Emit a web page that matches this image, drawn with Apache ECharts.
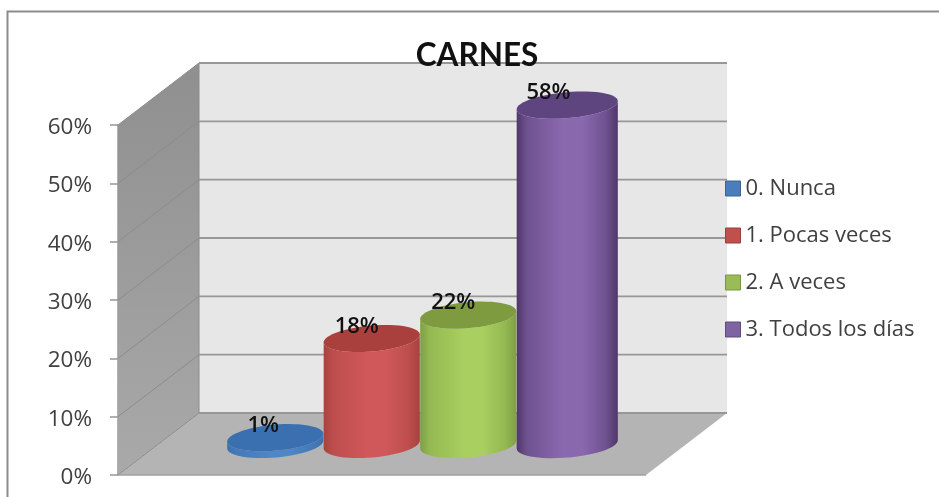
<!DOCTYPE html>
<html>
<head>
<meta charset="utf-8">
<style>html,body{margin:0;padding:0;background:#fff}#c{width:939px;height:497px}</style>
<script src="https://cdn.jsdelivr.net/npm/echarts@6/dist/echarts.min.js"></script>
</head>
<body>
<div id="c"></div>
<script>
const categories = ['0. Nunca', '1. Pocas veces', '2. A veces', '3. Todos los días'];
const values = [1, 18, 22, 58];
const labels = ['1%', '18%', '22%', '58%'];
const yTicks = [0, 10, 20, 30, 40, 50, 60];

const palette = [
  {legend:'#4a7ebb', border:'#3a6496', edge:'#3c70ae', side:'#4679b8', mid:'#4f86c6', top:'#3b70b0'},
  {legend:'#c0504d', border:'#9a3d3b', edge:'#a8423f', side:'#bd4e4c', mid:'#d0575a', top:'#a9403d'},
  {legend:'#9bbb59', border:'#7a9444', edge:'#7f9f46', side:'#94b952', mid:'#a8cf60', top:'#7f9b3f'},
  {legend:'#8064a2', border:'#5f4a7a', edge:'#4f3769', side:'#6e5290', mid:'#8a68ae', top:'#5f457f'}
];
const DX = 81, DY = -62, AXIS_OFFSET = 109;
const TILT = -5 * Math.PI / 180, RY = 13;
const FONT = '"Open Sans"';

function ellipsePts(cx, cy, rx, ry, from, to, n) {
  const pts = [];
  for (let i = 0; i <= n; i++) {
    const t = from + (to - from) * i / n;
    const ex = rx * Math.cos(t), ey = ry * Math.sin(t);
    pts.push([cx + ex * Math.cos(TILT) - ey * Math.sin(TILT),
              cy + ex * Math.sin(TILT) + ey * Math.cos(TILT)]);
  }
  return pts;
}

function renderWalls(params, api) {
  const cs = params.coordSys;
  const xL = cs.x - AXIS_OFFSET;
  const xR = cs.x + cs.width + 33;
  const y0 = api.coord([0, 0])[1], yM = api.coord([0, 60])[1];
  const children = [];
  if (params.dataIndex === 0) {
    children.push({type:'polygon', shape:{points:[[xL,y0],[xL+DX,y0+DY],[xL+DX,yM+DY],[xL,yM]]},
      style:{fill:{type:'linear',x:0,y:0,x2:0,y2:1,colorStops:[{offset:0,color:'#8f8f8f'},{offset:1,color:'#a9a9a9'}]}}});
    children.push({type:'polygon', shape:{points:[[xL+DX,y0+DY],[xR+DX,y0+DY],[xR+DX,yM+DY],[xL+DX,yM+DY]]},
      style:{fill:'#e7e7e7'}});
    children.push({type:'polygon', shape:{points:[[xL,y0],[xR,y0],[xR+DX,y0+DY],[xL+DX,y0+DY]]},
      style:{fill:'#b4b4b4'}});
  }
  const v = api.value(1);
  const y = api.coord([0, v])[1];
  children.push({type:'line', shape:{x1:xL,y1:y,x2:xL+DX,y2:y+DY}, style:{stroke:'#8c8c8c', lineWidth:1}});
  children.push({type:'line', shape:{x1:xL+DX,y1:y+DY,x2:xR+DX,y2:y+DY}, style:{stroke:'#979797', lineWidth:1.8}});
  if (params.dataIndex === 0) {
    children.push({type:'line', shape:{x1:xL,y1:y0,x2:xR,y2:y0}, style:{stroke:'#a0a0a0',lineWidth:1.6}});
    children.push({type:'line', shape:{x1:xL+DX,y1:yM+DY,x2:xL+DX,y2:y0+DY}, style:{stroke:'#8a8a8a',lineWidth:1}});
  }
  return {type:'group', children};
}

function makeCylinder(i) {
  return function (params, api) {
    const p = palette[i];
    const base = api.coord([categories[i], 0]);
    const top = api.coord([categories[i], api.value(1)]);
    const step = api.size([1, 0])[0];
    const grow = i === categories.length - 1 ? 2.5 : 0;
    const rx = step / 2 + grow;
    const cx = base[0] + grow;
    const baseY = base[1] + DY / 2 + 0.5;
    const topY = top[1] + DY / 2 - 0.5;
    const lower = ellipsePts(cx, baseY, rx, RY, Math.PI, 0, 30);
    const upper = ellipsePts(cx, topY, rx, RY, 0, Math.PI, 30);
    const grad = {type:'linear', x:0, y:0, x2:1, y2:0, colorStops:[
      {offset:0, color:p.edge},
      {offset:0.1, color:p.side},
      {offset:0.45, color:p.mid},
      {offset:0.65, color:p.mid},
      {offset:0.88, color:p.side},
      {offset:1, color:p.edge}
    ]};
    const children = [
      {type:'polygon', shape:{points:lower.concat(upper)}, style:{fill:grad}},
      {type:'polygon', shape:{points:ellipsePts(cx, topY, rx, RY, 0, 2*Math.PI, 60)}, style:{fill:p.top}},
      {type:'text', x: cx - (i === 0 ? 12 : 15) - grow * 1.5, y: topY - RY + 1,
       style:{text:labels[i], font:'600 22px ' + FONT, fill:'#111', align:'center', verticalAlign:'middle'}, z2:50}
    ];
    return {type:'group', children};
  };
}

const series = [{
  type:'custom', name:'walls', silent:true, z:1, clip:false,
  data: yTicks.map(t => [categories[0], t]),
  encode:{x:0, y:1},
  renderItem: renderWalls
}];
categories.forEach((name, i) => series.push({
  type:'custom', name, z:2 + i, clip:false,
  itemStyle:{color:palette[i].legend, borderColor:palette[i].border, borderWidth:1},
  data:[[name, values[i]]],
  encode:{x:0, y:1},
  renderItem: makeCylinder(i)
}));

const chart = echarts.init(document.getElementById('c'));
chart.setOption({
  animation:false,
  backgroundColor:'#fff',
  title:{text:'CARNES', left:472, top:35, textAlign:'center',
    textStyle:{fontFamily:'Lato', fontWeight:'bold', fontSize:31.5, color:'#111'}, z:20},
  legend:{data:categories, orient:'vertical', left:720, top:172.5, itemWidth:15, itemHeight:15, itemGap:25,
    icon:'rect', itemStyle:{borderWidth:1},
    textStyle:{fontFamily:FONT, fontSize:22, color:'#404040'}, selectedMode:false},
  grid:{left:227, width:386, top:125, height:350},
  xAxis:{type:'category', data:categories, show:false},
  yAxis:{type:'value', min:0, max:60, interval:10, offset:AXIS_OFFSET,
    axisLine:{show:true, lineStyle:{color:'#979797', width:1.5}},
    axisTick:{show:true, length:8, lineStyle:{color:'#979797', width:1.5}},
    splitLine:{show:false},
    axisLabel:{formatter:'{value}%', margin:26, verticalAlign:'top', lineHeight:5, fontFamily:FONT, fontSize:22.5, color:'#404040'}},
  graphic:[{type:'rect', silent:true, z:-1, shape:{x:7.5, y:11.5, width:1000, height:600},
    style:{fill:'#fff', stroke:'#8c8c8c', lineWidth:2}}],
  series
});
</script>
</body>
</html>
